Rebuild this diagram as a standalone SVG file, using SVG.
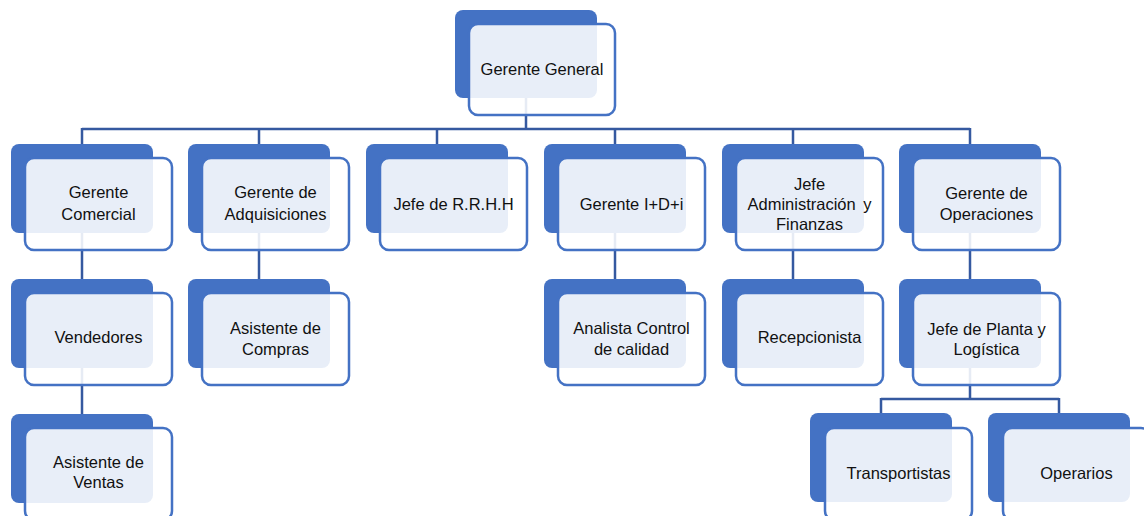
<svg xmlns="http://www.w3.org/2000/svg" width="1144" height="516" viewBox="0 0 1144 516">
<style>
.bg{fill:#4472C4}
.fr{fill:#ffffff;fill-opacity:0.88;stroke:#4472C4;stroke-width:2.5}
.t{font-family:"Liberation Sans",Arial,sans-serif;font-size:16.5px;fill:#111;text-anchor:middle}
.c{fill:none;stroke:#3559A0;stroke-width:2.5;stroke-linejoin:miter}
</style>
<rect width="1144" height="516" fill="#ffffff"/>
<g id="connectors">
<path class="c" d="M526 98V129M82 129H970M82 128V144M259 129V144M437 129V144M615 129V144M793 129V144M970 128V144"/>
<path class="c" d="M82 233V279M82 368V414"/>
<path class="c" d="M259 233V279"/>
<path class="c" d="M615 233V279"/>
<path class="c" d="M793 233V279"/>
<path class="c" d="M970 233V279M970 368V399M881 399H1059M881 398V413M1059 398V413"/>
</g>
<g id="n-gerente-general">
<rect class="bg" x="455" y="10" width="142" height="88" rx="8"/>
<rect class="fr" x="469" y="24" width="146" height="91" rx="9"/>
<text class="t" x="542" y="75">Gerente General</text>
</g>
<g id="n-gerente-comercial">
<rect class="bg" x="11" y="144" width="142" height="89" rx="8"/>
<rect class="fr" x="25" y="158" width="147" height="92" rx="9"/>
<text class="t" x="98.5" y="198">Gerente</text>
<text class="t" x="98.5" y="220">Comercial</text>
</g>
<g id="n-gerente-adquisiciones">
<rect class="bg" x="188" y="144" width="142" height="89" rx="8"/>
<rect class="fr" x="202" y="158" width="147" height="92" rx="9"/>
<text class="t" x="275.5" y="198">Gerente de</text>
<text class="t" x="275.5" y="220">Adquisiciones</text>
</g>
<g id="n-jefe-rrhh">
<rect class="bg" x="366" y="144" width="142" height="89" rx="8"/>
<rect class="fr" x="380" y="158" width="147" height="92" rx="9"/>
<text class="t" x="453.5" y="210">Jefe de R.R.H.H</text>
</g>
<g id="n-gerente-idi">
<rect class="bg" x="544" y="144" width="142" height="89" rx="8"/>
<rect class="fr" x="558" y="158" width="147" height="92" rx="9"/>
<text class="t" x="631.5" y="210">Gerente I+D+i</text>
</g>
<g id="n-jefe-administracion">
<rect class="bg" x="722" y="144" width="142" height="89" rx="8"/>
<rect class="fr" x="736" y="158" width="147" height="92" rx="9"/>
<text class="t" x="809.5" y="190">Jefe</text>
<text class="t" x="809.5" y="210" word-spacing="3">Administración y</text>
<text class="t" x="809.5" y="229.5">Finanzas</text>
</g>
<g id="n-gerente-operaciones">
<rect class="bg" x="899" y="144" width="142" height="89" rx="8"/>
<rect class="fr" x="913" y="158" width="147" height="92" rx="9"/>
<text class="t" x="986.5" y="199">Gerente de</text>
<text class="t" x="986.5" y="220">Operaciones</text>
</g>
<g id="n-vendedores">
<rect class="bg" x="11" y="279" width="142" height="89" rx="8"/>
<rect class="fr" x="25" y="293" width="147" height="92" rx="9"/>
<text class="t" x="98.5" y="343">Vendedores</text>
</g>
<g id="n-asistente-compras">
<rect class="bg" x="188" y="279" width="142" height="89" rx="8"/>
<rect class="fr" x="202" y="293" width="147" height="92" rx="9"/>
<text class="t" x="275.5" y="334">Asistente de</text>
<text class="t" x="275.5" y="355">Compras</text>
</g>
<g id="n-analista-control">
<rect class="bg" x="544" y="279" width="142" height="89" rx="8"/>
<rect class="fr" x="558" y="293" width="147" height="92" rx="9"/>
<text class="t" x="631.5" y="334">Analista Control</text>
<text class="t" x="631.5" y="355">de calidad</text>
</g>
<g id="n-recepcionista">
<rect class="bg" x="722" y="279" width="142" height="89" rx="8"/>
<rect class="fr" x="736" y="293" width="147" height="92" rx="9"/>
<text class="t" x="809.5" y="343">Recepcionista</text>
</g>
<g id="n-jefe-planta">
<rect class="bg" x="899" y="279" width="142" height="89" rx="8"/>
<rect class="fr" x="913" y="293" width="147" height="92" rx="9"/>
<text class="t" x="986.5" y="335">Jefe de Planta y</text>
<text class="t" x="986.5" y="355">Logística</text>
</g>
<g id="n-asistente-ventas">
<rect class="bg" x="11" y="414" width="142" height="89" rx="8"/>
<rect class="fr" x="25" y="428" width="147" height="92" rx="9"/>
<text class="t" x="98.5" y="468">Asistente de</text>
<text class="t" x="98.5" y="488">Ventas</text>
</g>
<g id="n-transportistas">
<rect class="bg" x="810" y="413" width="142" height="89" rx="8"/>
<rect class="fr" x="825" y="428" width="147" height="92" rx="9"/>
<text class="t" x="898.5" y="479">Transportistas</text>
</g>
<g id="n-operarios">
<rect class="bg" x="988" y="413" width="142" height="89" rx="8"/>
<rect class="fr" x="1003" y="428" width="147" height="92" rx="9"/>
<text class="t" x="1076.5" y="479">Operarios</text>
</g>
</svg>
